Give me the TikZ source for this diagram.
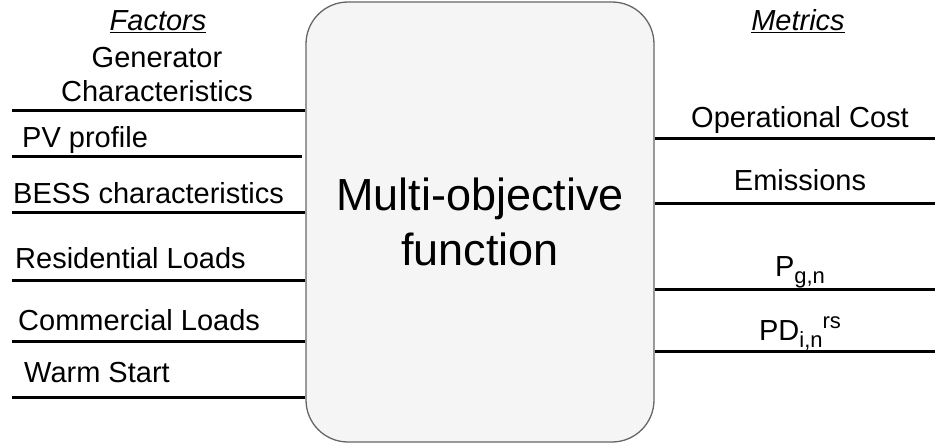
\documentclass[tikz,border=0pt]{standalone}
\usepackage{fontspec}
\setmainfont{Liberation Sans}
\begin{document}
\begin{tikzpicture}[x=1pt,y=-1pt,
  lbl/.style={inner sep=0pt,font=\fontsize{29}{34}\selectfont},
  head/.style={lbl,font=\fontsize{29}{34}\selectfont\itshape},
  rule/.style={line width=3pt},
  fnbox/.style={draw=black!60,line width=1.3pt,fill=black!4,rounded corners=42pt,
    minimum width=348pt,minimum height=440pt,inner sep=0pt,
    font=\fontsize{45}{55}\selectfont,align=center}]
\useasboundingbox (0,0) rectangle (935,444);

% central objective box
\node[fnbox] (obj) at (480,222) {Multi-objective\\function};

% column headings
\node[head,anchor=base] (fac) at (158,31) {\underline{Factors}};
\node[head,anchor=base] (met) at (798,31) {\underline{Metrics}};

% input factors (left)
\node[lbl,anchor=base] (gen1) at (157,67) {Generator};
\node[lbl,anchor=base] (gen2) at (157,102) {Characteristics};
\node[lbl,anchor=base west] (pv) at (22,147) {PV profile};
\node[lbl,anchor=base west] (bess) at (13,203) {BESS characteristics};
\node[lbl,anchor=base west] (res) at (15,268) {Residential Loads};
\node[lbl,anchor=base west] (com) at (18,330) {Commercial Loads};
\node[lbl,anchor=base west] (warm) at (24,382) {Warm Start};

\coordinate (l1) at (12,110);
\coordinate (l2) at (12,156);
\coordinate (l3) at (12,212);
\coordinate (l4) at (12,280);
\coordinate (l5) at (12,341);
\coordinate (l6) at (12,397);
\draw[rule] (l1) -- (l1 -| obj.west);
\draw[rule] (l2) -- ([xshift=-3pt]l2 -| obj.west);
\draw[rule] (l3) -- (l3 -| obj.west);
\draw[rule] (l4) -- (l4 -| obj.west);
\draw[rule] (l5) -- (l5 -| obj.west);
\draw[rule] (l6) -- (l6 -| obj.west);

% output metrics (right)
\node[lbl,anchor=base] (cost) at (800,128) {Operational Cost};
\node[lbl,anchor=base] (emis) at (800,190) {Emissions};
\node[lbl,anchor=base] (pg) at (800,276) {P\raisebox{-7pt}{\fontsize{22}{26}\selectfont g,n}};
\node[lbl,anchor=base] (pd) at (800,340) {PD\raisebox{-7pt}{\fontsize{22}{26}\selectfont i,n}\raisebox{12pt}{\fontsize{22}{26}\selectfont rs}};

\coordinate (r1) at (935,138);
\coordinate (r2) at (935,203);
\coordinate (r3) at (935,289);
\coordinate (r4) at (935,351);
\draw[rule] (r1 -| obj.east) -- (r1);
\draw[rule] (r2 -| obj.east) -- (r2);
\draw[rule] (r3 -| obj.east) -- (r3);
\draw[rule] (r4 -| obj.east) -- (r4);
\end{tikzpicture}
\end{document}
